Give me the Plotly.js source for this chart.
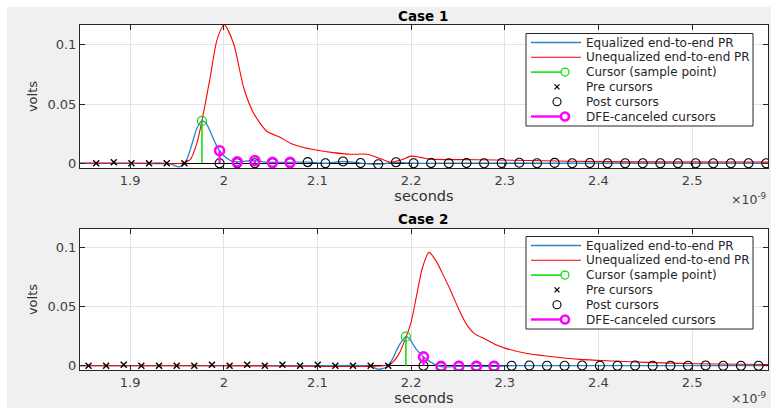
<!DOCTYPE html>
<html><head><meta charset="utf-8">
<script src="https://cdn.plot.ly/plotly-3.0.1.min.js"></script>
<style>html,body{margin:0;padding:0;background:#f0f0f0;} #chart{width:771px;height:408px;}</style>
</head><body><div id="chart"></div>
<script>
// ---------- data (time in units of 1e-9 s, values in volts) ----------
const xTickVals = [1.9, 2.0, 2.1, 2.2, 2.3, 2.4, 2.5];
const xTickText = ['1.9', '2', '2.1', '2.2', '2.3', '2.4', '2.5'];
const yTickVals = [0, 0.05, 0.1];
const yTickText = ['0', '0.05', '0.1'];
const legendLabels = ['Equalized end-to-end PR', 'Unequalized end-to-end PR', 'Cursor (sample point)', 'Pre cursors', 'Post cursors', 'DFE-canceled cursors'];
const caseTitles = ['Case 1', 'Case 2'];

// Case 1
const c1EqT = [1.8465, 1.88, 1.91, 1.935, 1.944, 1.951, 1.957, 1.961, 1.966, 1.971, 1.9767, 1.981, 1.986, 1.991, 1.9955, 2.002, 2.008, 2.0143, 2.024, 2.0332, 2.042, 2.052, 2.061, 2.0708, 2.0896, 2.1085, 2.1273, 2.1461, 2.1649, 2.1838, 2.2026, 2.25, 2.3, 2.35, 2.4, 2.5, 2.581];
const c1EqV = [0, 0, 0, 0.0002, -0.0008, -0.003, -0.0015, 0.004, 0.016, 0.029, 0.0358, 0.034, 0.026, 0.017, 0.0106, 0.005, 0.002, 0.0012, 0.0018, 0.0022, 0.0012, 0.0008, 0.0008, 0.0008, 0.001, 0, 0.0015, 0.0002, -0.0008, 0.0008, 0, 0.0001, 0.0002, 0, 0, 0, 0];
const c1UnT = [1.8465, 1.9, 1.955, 1.962, 1.9642, 1.9713, 1.9767, 1.9856, 1.9927, 2.0005, 2.0105, 2.0212, 2.032, 2.046, 2.06, 2.071, 2.082, 2.1, 2.117, 2.135, 2.153, 2.167, 2.178, 2.19, 2.2, 2.21, 2.22, 2.27, 2.31, 2.37, 2.44, 2.581];
const c1UnV = [0, 0, 0, 0.002, 0.003, 0.017, 0.036, 0.073, 0.104, 0.117, 0.101, 0.064, 0.042, 0.027, 0.022, 0.017, 0.014, 0.011, 0.009, 0.0076, 0.0076, 0.004, 0.001, 0.003, 0.006, 0.005, 0.0035, 0.003, 0.0025, 0.0017, 0.0012, 0.001];
const c1CursorT = [1.9767];
const c1CursorV = [0.0358];
const c1PreT = [1.8638, 1.8826, 1.9014, 1.9202, 1.9391, 1.9579];
const c1PreV = [0, 0.0008, 0, 0, 0, 0];
const c1PostT = [1.9955, 2.0143, 2.0332, 2.0520, 2.0708, 2.0896, 2.1085, 2.1273, 2.1461, 2.1649, 2.1838, 2.2026, 2.2214, 2.2402, 2.2591, 2.2779, 2.2967, 2.3155, 2.3344, 2.3532, 2.3720, 2.3908, 2.4097, 2.4285, 2.4473, 2.4661, 2.4849, 2.5038, 2.5226, 2.5414, 2.5602, 2.5791];
const c1PostV = [0, 0, 0, 0, 0, 0.001, 0, 0.0015, 0.0002, -0.0008, 0.0008, 0, 0.0002, 0, 0.0002, 0, 0.0002, 0.0004, 0, 0.0003, 0, 0.0002, 0, 0, 0, 0, 0, 0, 0, 0, 0, 0];
const c1DfeT = [1.9955, 2.0143, 2.0332, 2.0520, 2.0708];
const c1DfeV = [0.0106, 0.0012, 0.0022, 0.0008, 0.0008];

// Case 2
const c2EqT = [1.8465, 2.0, 2.1, 2.15, 2.158, 2.165, 2.171, 2.1756, 2.181, 2.187, 2.1944, 2.199, 2.205, 2.2132, 2.221, 2.232, 2.2509, 2.2697, 2.2885, 2.31, 2.4, 2.5, 2.581];
const c2EqV = [0, 0, 0, 0, -0.001, -0.003, -0.002, 0, 0.007, 0.017, 0.0246, 0.022, 0.0145, 0.0075, 0.003, -0.0008, -0.0006, -0.0006, -0.0006, 0, 0, 0, 0];
const c2UnT = [1.8465, 2.0, 2.17, 2.179, 2.187, 2.1944, 2.2, 2.205, 2.2121, 2.219, 2.226, 2.2335, 2.242, 2.2513, 2.26, 2.268, 2.278, 2.29, 2.301, 2.3225, 2.344, 2.38, 2.4156, 2.451, 2.487, 2.523, 2.581];
const c2UnV = [0, 0, 0, 0.002, 0.01, 0.024, 0.037, 0.056, 0.083, 0.096, 0.0896, 0.078, 0.064, 0.047, 0.034, 0.027, 0.023, 0.018, 0.0147, 0.0105, 0.0082, 0.0054, 0.004, 0.0028, 0.002, 0.0015, 0.001];
const c2CursorT = [2.1944];
const c2CursorV = [0.0246];
const c2PreT = [1.8556, 1.8744, 1.8932, 1.9120, 1.9309, 1.9497, 1.9685, 1.9873, 2.0062, 2.0250, 2.0438, 2.0626, 2.0815, 2.1003, 2.1191, 2.1379, 2.1568, 2.1756];
const c2PreV = [0, 0, 0.0008, 0, 0, 0, 0, 0.0008, 0, 0.0008, 0, 0.0008, 0, 0.0008, 0, 0, 0, 0];
const c2PostT = [2.2132, 2.2320, 2.2509, 2.2697, 2.2885, 2.3073, 2.3262, 2.3450, 2.3638, 2.3826, 2.4015, 2.4203, 2.4391, 2.4579, 2.4768, 2.4956, 2.5144, 2.5332, 2.5521, 2.5709];
const c2PostV = [0, 0, 0, 0, 0, 0, 0.0002, 0, 0, 0.0002, 0, 0, 0.0002, 0, 0, 0, 0.0002, 0, 0, 0];
const c2DfeT = [2.2132, 2.2320, 2.2509, 2.2697, 2.2885];
const c2DfeV = [0.0075, -0.0008, -0.0006, -0.0006, -0.0006];

// ---------- styles ----------
const F = 'DejaVu Sans, Arial, sans-serif';
const BLUE = '#2a84c8', RED = '#ff0000', GREEN = '#00e000', MAG = '#ff00ff';
const W = 771, H = 408, ML = 80, MR = 3, MT = 25, MB = 38;
const PW = W - ML - MR, PH = H - MT - MB;
const px = x => (x - ML) / PW;            // pixel -> paper x
const py = y => (H - MB - y) / PH;        // pixel -> paper y

function stems(ts, vs) {
  const x = [], y = [];
  ts.forEach((t, i) => { x.push(t, t, null); y.push(0, vs[i], null); });
  return {x, y};
}

function caseTraces(xa, ya, eqT, eqV, unT, unV, cT, cV, preT, preV, postT, postV, dT, dV) {
  const cs = stems(cT, cV), ds = stems(dT, dV);
  const base = {xaxis: xa, yaxis: ya, showlegend: false, hoverinfo: 'skip'};
  return [
    Object.assign({type: 'scatter', mode: 'lines', x: eqT, y: eqV, name: legendLabels[0],
      line: {color: BLUE, width: 1.3, shape: 'spline', smoothing: 0.7}}, base),
    Object.assign({type: 'scatter', mode: 'lines', x: unT, y: unV, name: legendLabels[1],
      line: {color: RED, width: 1.1, shape: 'spline', smoothing: 0.7}}, base),
    Object.assign({type: 'scatter', mode: 'lines', x: cs.x, y: cs.y, name: legendLabels[2],
      line: {color: GREEN, width: 1.5}}, base),
    Object.assign({type: 'scatter', mode: 'markers', x: cT, y: cV, name: legendLabels[2],
      marker: {symbol: 'circle-open', size: 9, color: GREEN, line: {width: 1.2}}}, base),
    Object.assign({type: 'scatter', mode: 'markers', x: preT, y: preV, name: legendLabels[3],
      marker: {symbol: 'x-thin', size: 6, color: '#000', line: {width: 1.4, color: '#000'}}}, base),
    Object.assign({type: 'scatter', mode: 'markers', x: postT, y: postV, name: legendLabels[4],
      marker: {symbol: 'circle-open', size: 9, color: '#000', line: {width: 1.1}}}, base),
    Object.assign({type: 'scatter', mode: 'lines', x: ds.x, y: ds.y, name: legendLabels[5],
      line: {color: MAG, width: 2.2}}, base),
    Object.assign({type: 'scatter', mode: 'markers', x: dT, y: dV, name: legendLabels[5],
      marker: {symbol: 'circle-open', size: 9, color: MAG, line: {width: 2.6}}}, base)
  ];
}

const data = [].concat(
  caseTraces('x', 'y', c1EqT, c1EqV, c1UnT, c1UnV, c1CursorT, c1CursorV, c1PreT, c1PreV, c1PostT, c1PostV, c1DfeT, c1DfeV),
  caseTraces('x2', 'y2', c2EqT, c2EqV, c2UnT, c2UnV, c2CursorT, c2CursorV, c2PreT, c2PreV, c2PostT, c2PostV, c2DfeT, c2DfeV)
);

function xax(anchor) {
  return {anchor: anchor, range: [1.8465, 2.581], tickmode: 'array', tickvals: xTickVals, ticktext: xTickText,
    showline: true, mirror: 'ticks', linecolor: '#262626', linewidth: 1, ticks: 'inside', ticklen: 5, tickcolor: '#262626',
    showgrid: true, gridcolor: '#e3e3e3', gridwidth: 1, zeroline: false,
    tickfont: {family: F, size: 13, color: '#404040'},
    title: {text: 'seconds', font: {family: F, size: 14.5, color: '#303030'}, standoff: 3}};
}
function yax(anchor, domain, range) {
  return {anchor: anchor, domain: domain, range: range, tickmode: 'array', tickvals: yTickVals, ticktext: yTickText,
    showline: true, mirror: 'ticks', linecolor: '#262626', linewidth: 1, ticks: 'inside', ticklen: 5, tickcolor: '#262626',
    showgrid: true, gridcolor: '#e3e3e3', gridwidth: 1, zeroline: true, zerolinecolor: '#000', zerolinewidth: 1,
    tickfont: {family: F, size: 13, color: '#404040'},
    title: {text: 'volts', font: {family: F, size: 13, color: '#303030'}, standoff: 6}};
}

const shapes = [];
const annotations = [];

// white frame strips (top and left)
shapes.push({type: 'rect', xref: 'paper', yref: 'paper', x0: px(0), x1: px(W), y0: py(0), y1: py(7), fillcolor: '#ffffff', line: {width: 0}, layer: 'above'});
shapes.push({type: 'rect', xref: 'paper', yref: 'paper', x0: px(0), x1: px(7), y0: py(0), y1: py(H), fillcolor: '#ffffff', line: {width: 0}, layer: 'above'});

function legendBox(top) {
  const L = 526, R = 753, bot = top + 92.5;
  shapes.push({type: 'rect', xref: 'paper', yref: 'paper', x0: px(L), x1: px(R), y0: py(bot), y1: py(top),
    fillcolor: '#ffffff', line: {color: '#262626', width: 1}, layer: 'above'});
  const rows = [0, 1, 2, 3, 4, 5].map(i => top + 9 + 14.8 * i);
  const ln = (x0, x1, y, c, w) => shapes.push({type: 'line', xref: 'paper', yref: 'paper', x0: px(x0), x1: px(x1), y0: py(y), y1: py(y), line: {color: c, width: w}, layer: 'above'});
  const circ = (cx, cy, r, c, w) => shapes.push({type: 'circle', xref: 'paper', yref: 'paper', x0: px(cx - r), x1: px(cx + r), y0: py(cy + r), y1: py(cy - r), line: {color: c, width: w}, layer: 'above'});
  ln(531, 581, rows[0], BLUE, 1.6);
  ln(531, 581, rows[1], RED, 1.1);
  ln(531, 561, rows[2], GREEN, 1.5); circ(565, rows[2], 4, GREEN, 1.2);
  // x marker
  shapes.push({type: 'line', xref: 'paper', yref: 'paper', x0: px(554.5), x1: px(559.5), y0: py(rows[3] - 2.5), y1: py(rows[3] + 2.5), line: {color: '#000', width: 1.3}, layer: 'above'});
  shapes.push({type: 'line', xref: 'paper', yref: 'paper', x0: px(554.5), x1: px(559.5), y0: py(rows[3] + 2.5), y1: py(rows[3] - 2.5), line: {color: '#000', width: 1.3}, layer: 'above'});
  circ(557, rows[4], 4, '#000', 1.1);
  ln(531, 561, rows[5], MAG, 2.4); circ(565, rows[5], 4, MAG, 2.6);
  rows.forEach((y, i) => annotations.push({xref: 'paper', yref: 'paper', x: px(584), y: py(y), xanchor: 'left', yanchor: 'middle',
    text: legendLabels[i], showarrow: false, font: {family: F, size: 12, color: '#262626'}}));
}
legendBox(33.5);
legendBox(236.5);

// subplot titles
annotations.push({xref: 'paper', yref: 'paper', x: px(423), y: py(15.5), xanchor: 'center', yanchor: 'middle', showarrow: false,
  text: '<b>' + caseTitles[0] + '</b>', font: {family: F, size: 13.5, color: '#000'}});
annotations.push({xref: 'paper', yref: 'paper', x: px(423), y: py(218.5), xanchor: 'center', yanchor: 'middle', showarrow: false,
  text: '<b>' + caseTitles[1] + '</b>', font: {family: F, size: 13.5, color: '#000'}});
// exponent labels
annotations.push({xref: 'paper', yref: 'paper', x: px(768), y: py(199), xanchor: 'right', yanchor: 'middle', showarrow: false,
  text: '×10<sup>-9</sup>', font: {family: F, size: 12.5, color: '#404040'}});
annotations.push({xref: 'paper', yref: 'paper', x: px(768), y: py(398), xanchor: 'right', yanchor: 'middle', showarrow: false,
  text: '×10<sup>-9</sup>', font: {family: F, size: 12.5, color: '#404040'}});

const layout = {
  width: W, height: H,
  margin: {l: ML, r: MR, t: MT, b: MB, pad: 0},
  paper_bgcolor: '#f0f0f0', plot_bgcolor: '#ffffff',
  showlegend: false,
  font: {family: F, size: 13, color: '#404040'},
  xaxis: xax('y'),
  yaxis: yax('x', [py(168), 1], [-0.004, 0.1168]),
  xaxis2: xax('y2'),
  yaxis2: yax('x2', [0, py(229)], [-0.00364, 0.1158]),
  shapes: shapes,
  annotations: annotations
};

Plotly.newPlot('chart', data, layout, {displayModeBar: false, staticPlot: true});
</script></body></html>
